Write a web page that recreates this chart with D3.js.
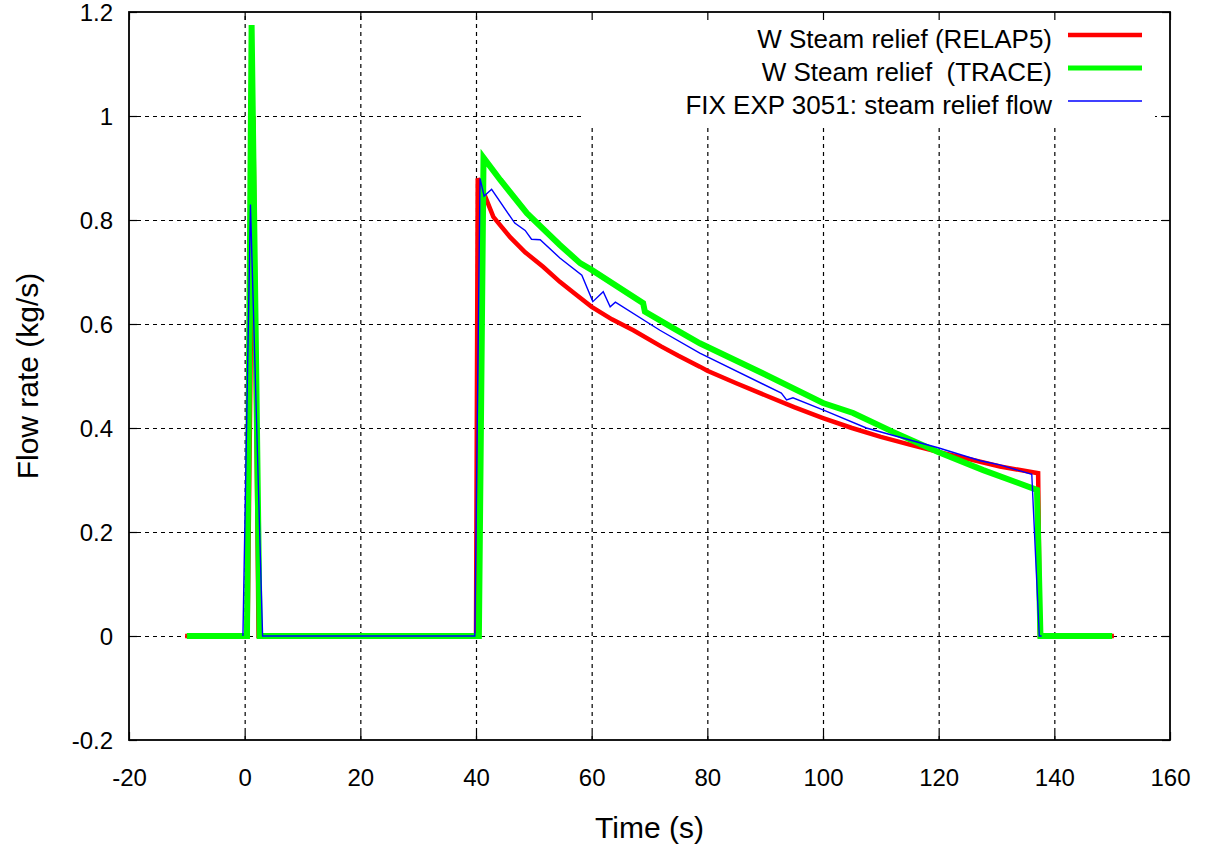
<!DOCTYPE html>
<html>
<head>
<meta charset="utf-8">
<script src="https://cdn.jsdelivr.net/npm/d3@7"></script>
<style>
  html, body { margin: 0; padding: 0; background: #fff; }
  svg { display: block; font-family: "Liberation Sans", Arial, sans-serif; }
</style>
</head>
<body>
<svg id="chart" width="1207" height="848"></svg>
<script>
// Axis ticks
const xTicks = [-20, 0, 20, 40, 60, 80, 100, 120, 140, 160];
const yTicks = [-0.2, 0, 0.2, 0.4, 0.6, 0.8, 1.0, 1.2];
const xGrid = [0, 20, 40, 60, 80, 100, 120, 140];
const yGrid = [0, 0.2, 0.4, 0.6, 0.8, 1.0];

// Series names
const seriesNames = [
  "W Steam relief (RELAP5)",
  "W Steam relief  (TRACE)",
  "FIX EXP 3051: steam relief flow"
];

// RELAP5 steam relief flow: time (s), flow (kg/s)
const relapTime = [-10.3, 0.5, 1.5, 2.4, 40.0, 40.3, 41.6, 43.0, 45.9, 48.5, 51.6, 54.5, 57.0, 60.0, 63.5, 67.2, 72.0, 75.0, 78.7, 80.0, 85.0, 90.0, 95.0, 100.0, 105.0, 110.0, 115.0, 119.9, 127.2, 130.6, 137.2, 137.5, 150.3];
const relapFlow = [0, 0, 1.0, 0, 0, 0.88, 0.845, 0.806, 0.767, 0.738, 0.71, 0.681, 0.659, 0.633, 0.609, 0.588, 0.557, 0.539, 0.518, 0.51, 0.486, 0.463, 0.44, 0.419, 0.40, 0.383, 0.368, 0.354, 0.335, 0.326, 0.313, 0, 0];

// TRACE steam relief flow
const traceTime = [-10, 0.4, 1.2, 2.6, 40.5, 41.3, 44.2, 48.8, 54.5, 58.0, 60.0, 68.9, 69.2, 74.1, 78.7, 90.0, 100.0, 105.2, 112.0, 119.9, 127.7, 137.0, 137.6, 150];
const traceFlow = [0, 0, 1.175, 0, 0, 0.92, 0.877, 0.813, 0.752, 0.717, 0.704, 0.64, 0.624, 0.592, 0.563, 0.503, 0.448, 0.429, 0.393, 0.354, 0.319, 0.281, 0, 0];

// Experiment FIX 3051 measured steam relief flow
const expTime = [-0.3, 1.0, 3.1, 39.8, 40.7, 41.4, 42.7, 46.7, 48.5, 49.6, 51.1, 54.5, 58.3, 60.2, 62.0, 63.2, 64.1, 71.8, 78.7, 92.8, 93.7, 94.8, 100.0, 107.5, 119.9, 127.2, 130.6, 136.1, 137.4, 137.8];
const expFlow = [0, 0.83, 0, 0, 0.88, 0.846, 0.859, 0.794, 0.78, 0.763, 0.762, 0.727, 0.694, 0.643, 0.662, 0.633, 0.642, 0.588, 0.544, 0.467, 0.454, 0.458, 0.435, 0.40, 0.362, 0.337, 0.329, 0.311, 0, 0];

const svg = d3.select("#chart");
const L = 129, R = 1170, T = 12, B = 740;

const x = d3.scaleLinear().domain([-20, 160]).range([L, R]);
const y = d3.scaleLinear().domain([-0.2, 1.2]).range([B, T]);
const fmt = v => String(+v.toFixed(1));

// Dashed grid
const grid = svg.append("g").attr("class", "grid");
grid.append("g")
  .attr("transform", `translate(0,${B})`)
  .call(d3.axisBottom(x).tickValues(xGrid).tickSize(-(B - T)).tickFormat(""))
  .call(g => g.select(".domain").remove());
grid.append("g")
  .attr("transform", `translate(${L},0)`)
  .call(d3.axisLeft(y).tickValues(yGrid).tickSize(-(R - L)).tickFormat(""))
  .call(g => g.select(".domain").remove());
grid.selectAll("line")
  .attr("stroke", "#000")
  .attr("stroke-width", 1.2)
  .attr("stroke-dasharray", "4,4");

// Key background keeps the grid out of the legend area
svg.append("rect")
  .attr("x", 583).attr("y", T + 1)
  .attr("width", 1155 - 583).attr("height", 124 - T)
  .attr("fill", "#fff");

// Data lines
const line = d3.line().x(d => x(d[0])).y(d => y(d[1]));
const series = [
  { t: relapTime, v: relapFlow, color: "#ff0000", w: 4.5 },
  { t: traceTime, v: traceFlow, color: "#00ff00", w: 6 },
  { t: expTime, v: expFlow, color: "#0000ff", w: 1.4 }
];
series.forEach(s => {
  svg.append("path")
    .datum(s.t.map((t, i) => [t, s.v[i]]))
    .attr("fill", "none")
    .attr("stroke", s.color)
    .attr("stroke-width", s.w)
    .attr("stroke-linejoin", "miter")
    .attr("d", line);
});

// Frame and inward ticks on all four sides
const tickLen = 8;
const axes = svg.append("g").attr("class", "axes");
axes.append("g").attr("transform", `translate(0,${B})`)
  .call(d3.axisBottom(x).tickValues(xTicks).tickSize(-tickLen).tickPadding(29).tickFormat(fmt));
axes.append("g").attr("transform", `translate(0,${T})`)
  .call(d3.axisTop(x).tickValues(xTicks).tickSize(-tickLen).tickFormat(""));
const left = axes.append("g").attr("transform", `translate(${L},0)`)
  .call(d3.axisLeft(y).tickValues(yTicks).tickSize(-tickLen).tickPadding(16).tickFormat(fmt));
axes.append("g").attr("transform", `translate(${R},0)`)
  .call(d3.axisRight(y).tickValues(yTicks).tickSize(-tickLen).tickFormat(""));
axes.selectAll(".domain").remove();
axes.selectAll("line").attr("stroke", "#000").attr("stroke-width", 1.2);
axes.selectAll("text")
  .attr("fill", "#000")
  .style("font-family", "'Liberation Sans', Arial, sans-serif")
  .style("font-size", "24px");
left.selectAll("text").attr("dy", "0.35em");

svg.append("rect")
  .attr("x", L).attr("y", T)
  .attr("width", R - L).attr("height", B - T)
  .attr("fill", "none").attr("stroke", "#000").attr("stroke-width", 1.8);

// Axis titles
svg.append("text")
  .attr("x", (L + R) / 2).attr("y", 838)
  .attr("text-anchor", "middle")
  .style("font-size", "30px")
  .text("Time (s)");
svg.append("text")
  .attr("transform", `translate(38,${(T + B) / 2}) rotate(-90)`)
  .attr("text-anchor", "middle")
  .style("font-size", "30px")
  .text("Flow rate (kg/s)");

// Legend
const key = svg.append("g").attr("class", "key");
const keyRows = [35, 68, 101];
series.forEach((s, i) => {
  key.append("line")
    .attr("x1", 1068).attr("x2", 1142)
    .attr("y1", keyRows[i]).attr("y2", keyRows[i])
    .attr("stroke", s.color)
    .attr("stroke-width", Math.min(s.w, 5));
  key.append("text")
    .attr("x", 1052).attr("y", keyRows[i] + 13)
    .attr("text-anchor", "end")
    .style("font-size", "26px")
    .style("white-space", "pre")
    .attr("xml:space", "preserve")
    .text(seriesNames[i]);
});
</script>
</body>
</html>
